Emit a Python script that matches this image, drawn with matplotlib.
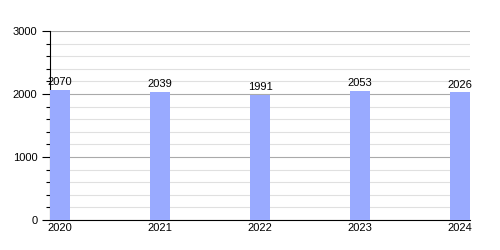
import matplotlib
matplotlib.use('Agg')
import matplotlib.pyplot as plt
from matplotlib.ticker import MultipleLocator

plt.rcParams['font.family'] = ['Liberation Sans', 'DejaVu Sans']

years = ['2020', '2021', '2022', '2023', '2024']
values = [2070, 2039, 1991, 2053, 2026]

fig = plt.figure(figsize=(5, 2.5), dpi=100)
ax = fig.add_axes([0.1, 0.12, 0.84, 0.756])

x = list(range(len(years)))
ax.bar(x, values, width=0.2, color='#99aaff', zorder=3)
for xi, v in zip(x, values):
    ax.text(xi, v + 40, str(v), ha='center', va='bottom', fontsize=8, zorder=4)

ax.set_xlim(-0.1, len(years) - 0.9)
ax.set_ylim(0, 3000)
ax.set_xticks(x)
ax.set_xticklabels(years)
ax.yaxis.set_major_locator(MultipleLocator(1000))
ax.yaxis.set_minor_locator(MultipleLocator(200))
ax.grid(axis='y', which='major', color='#aaaaaa', linewidth=0.8, zorder=0)
ax.grid(axis='y', which='minor', color='#e0e0e0', linewidth=0.8, zorder=0)

ax.tick_params(axis='both', labelsize=8, length=6, width=0.8, pad=3)
ax.tick_params(axis='x', length=0, pad=2)
ax.tick_params(axis='y', which='minor', length=3, width=0.8)

for s in ['top', 'right']:
    ax.spines[s].set_visible(False)
ax.spines['left'].set_linewidth(0.8)
ax.spines['bottom'].set_linewidth(0.8)

fig.savefig('out.png', dpi=100)
